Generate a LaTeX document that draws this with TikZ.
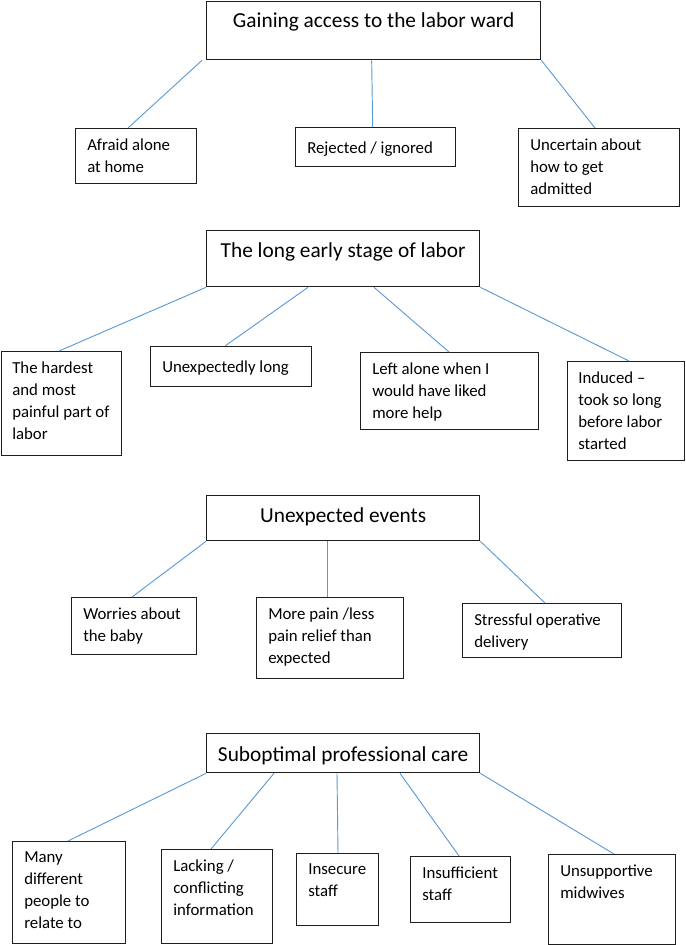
\documentclass[tikz,border=0pt]{standalone}
\usepackage{fontspec}
\setmainfont{Carlito}
\usetikzlibrary{calc}
\definecolor{linkblue}{RGB}{91,155,213}
\definecolor{boxgrey}{RGB}{30,30,30}

\begin{document}
\begin{tikzpicture}[x=0.75pt,y=-0.75pt,
        topic/.style={draw=boxgrey,line width=1pt,inner sep=0pt,anchor=north west},
        topictext/.style={font=\fontsize{16}{19}\selectfont,anchor=base,inner sep=0pt},
        leaf/.style={draw=boxgrey,line width=1pt,inner sep=0pt,anchor=north west},
        leaftext/.style={font=\fontsize{12.6}{16.5}\selectfont,align=left,anchor=north west,inner sep=0pt,
            execute at begin node={\strut}},
        link/.style={draw=linkblue,line width=0.7pt}]
        \def\px{0.75pt}
        \def\drop{10.5}
        \useasboundingbox (0,0) rectangle (685,945);

        % Gaining access
        \node[topic,minimum width=334*\px,minimum height=58*\px] (h1) at (206,1) {};
        \node[topictext] (h1t) at ($(h1.north)+(0,27)$) {Gaining access to the labor ward};
        \node[leaf,minimum width=121*\px,minimum height=55*\px] (a1) at (75,128) {};
        \node[leaf,minimum width=160*\px,minimum height=39*\px] (a2) at (295,127) {};
        \node[leaf,minimum width=161*\px,minimum height=78*\px] (a3) at (518,128) {};
        \node[leaftext] (a1t) at ($(a1.north west)+(12,\drop)$) {Afraid alone\\at home};
        \node[leaftext] (a2t) at ($(a2.north west)+(12,\drop)$) {Rejected / ignored};
        \node[leaftext] (a3t) at ($(a3.north west)+(12,\drop)$) {Uncertain about\\how to get\\admitted};
        \draw[link] ($(h1.south west)+(-4,0)$) -- ($(a1.north west)+(53,0)$);
        \draw[link] ($(h1.south)+(-2,0)$) -- ($(a2.north)+(-3,0)$);
        \draw[link] (h1.south east) -- ($(a3.north west)+(77,0)$);

        % The long early stage
        \node[topic,minimum width=273*\px,minimum height=56*\px] (h2) at (206,230) {};
        \node[topictext] (h2t) at ($(h2.north)+(0,27)$) {The long early stage of labor};
        \node[leaf,minimum width=120*\px,minimum height=104*\px] (b1) at (1,351) {};
        \node[leaf,minimum width=161*\px,minimum height=40*\px] (b2) at (150,346) {};
        \node[leaf,minimum width=178*\px,minimum height=77*\px] (b3) at (360,352) {};
        \node[leaf,minimum width=117*\px,minimum height=99*\px] (b4) at (567,361) {};
        \node[leaftext] (b1t) at ($(b1.north west)+(11,\drop)$) {The hardest\\and most\\painful part of\\labor};
        \node[leaftext] (b2t) at ($(b2.north west)+(12,\drop)$) {Unexpectedly long};
        \node[leaftext] (b3t) at ($(b3.north west)+(12,\drop)$) {Left alone when I\\would have liked\\more help};
        \node[leaftext] (b4t) at ($(b4.north west)+(11,\drop)$) {Induced --\\took so long\\before labor\\started};
        \draw[link] (h2.south west) -- ($(b1.north west)+(58,0)$);
        \draw[link] ($(h2.south west)+(102,0)$) -- ($(b2.north west)+(75,0)$);
        \draw[link] ($(h2.south west)+(168,0)$) -- ($(b3.north west)+(89,0)$);
        \draw[link] (h2.south east) -- ($(b4.north west)+(62,0)$);

        % Unexpected events
        \node[topic,minimum width=273*\px,minimum height=45*\px] (h3) at (206,495) {};
        \node[topictext] (h3t) at ($(h3.north)+(0,27)$) {Unexpected events};
        \node[leaf,minimum width=125*\px,minimum height=57*\px] (c1) at (71,597) {};
        \node[leaf,minimum width=147*\px,minimum height=81*\px] (c2) at (256,597) {};
        \node[leaf,minimum width=159*\px,minimum height=54*\px] (c3) at (462,603) {};
        \node[leaftext] (c1t) at ($(c1.north west)+(12,\drop)$) {Worries about\\the baby};
        \node[leaftext] (c2t) at ($(c2.north west)+(12,\drop)$) {More pain /less\\pain relief than\\expected};
        \node[leaftext] (c3t) at ($(c3.north west)+(12,\drop)$) {Stressful operative\\delivery};
        \draw[link] (h3.south west) -- ($(c1.north west)+(61,0)$);
        \draw[link] ($(h3.south west)+(121,0)$) -- ($(c2.north west)+(71,0)$);
        \draw[link] (h3.south east) -- ($(c3.north west)+(83,0)$);

        % Suboptimal professional care
        \node[topic,minimum width=273*\px,minimum height=39*\px] (h4) at (206,733) {};
        \node[topictext] (h4t) at ($(h4.north)+(0,28)$) {Suboptimal professional care};
        \node[leaf,minimum width=113*\px,minimum height=102*\px] (d1) at (12,841) {};
        \node[leaf,minimum width=111*\px,minimum height=94*\px] (d2) at (161,849) {};
        \node[leaf,minimum width=82*\px,minimum height=72*\px] (d3) at (296,853) {};
        \node[leaf,minimum width=100*\px,minimum height=66*\px] (d4) at (410,856) {};
        \node[leaf,minimum width=127*\px,minimum height=90*\px] (d5) at (548,854) {};
        \node[leaftext] (d1t) at ($(d1.north west)+(12,\drop)$) {Many\\different\\people to\\relate to};
        \node[leaftext] (d2t) at ($(d2.north west)+(12,\drop)$) {Lacking /\\conflicting\\information};
        \node[leaftext] (d3t) at ($(d3.north west)+(12,\drop)$) {Insecure\\staff};
        \node[leaftext] (d4t) at ($(d4.north west)+(12,\drop)$) {Insufficient\\staff};
        \node[leaftext] (d5t) at ($(d5.north west)+(12,\drop)$) {Unsupportive\\midwives};
        \draw[link] (h4.south west) -- ($(d1.north west)+(56,0)$);
        \draw[link] ($(h4.south west)+(68,0)$) -- ($(d2.north west)+(50,0)$);
        \draw[link] ($(h4.south west)+(131,0)$) -- ($(d3.north west)+(42,0)$);
        \draw[link] ($(h4.south west)+(194,0)$) -- ($(d4.north west)+(49,0)$);
        \draw[link] (h4.south east) -- ($(d5.north west)+(66,0)$);
    \end{tikzpicture}
\end{document}
